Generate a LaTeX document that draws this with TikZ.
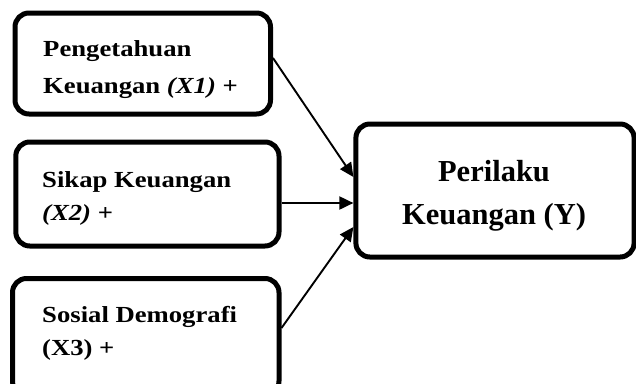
\documentclass[tikz,border=0pt]{standalone}
\usepackage{fontspec}
\setmainfont{Liberation Serif}
\newfontfamily\smallfam[FakeStretch=1.16]{Liberation Serif}
\usetikzlibrary{arrows.meta}
\tikzset{
  box/.style={draw, line width=5pt, rounded corners=14pt, inner sep=0pt, fill=white},
  conn/.style={line width=1.9pt, -{Triangle[length=14pt,width=13pt]}},
  smalltxt/.style={inner sep=0pt, align=left, font=\smallfam\bfseries\fontsize{23}{#1}\selectfont},
  bigtxt/.style={inner sep=0pt, align=center, font=\bfseries\fontsize{30.5}{43}\selectfont},
}
\begin{document}
\begin{tikzpicture}[x=1pt,y=-1pt]
\useasboundingbox (0,0) rectangle (636,383);
\node[box, minimum width=255.5pt, minimum height=101pt] (x1) at (142.75,63.5) {};
\node[box, minimum width=263.2pt, minimum height=104pt] (x2) at (147.4,194) {};
\node[box, minimum width=266.5pt, minimum height=116.5pt] (x3) at (145.75,336.75) {};
\node[box, minimum width=278.2pt, minimum height=133pt] (y) at (495,190.5) {};
\node[smalltxt=36.7, anchor=base west] (t1) at (43,93.3) {Pengetahuan\\Keuangan \textit{(X1)} +};
\node[smalltxt=33, anchor=base west] (t2) at (42,220) {Sikap Keuangan\\\textit{(X2)} +};
\node[smalltxt=33, anchor=base west] (t3) at (42,355) {Sosial Demografi\\(X3) +};
\node[bigtxt, anchor=base] (ty) at (494,224) {Perilaku\\Keuangan (Y)};
\draw[conn] ([yshift=5.5pt]x1.east) -- ([yshift=13.5pt]y.west);
\draw[conn] ([yshift=-9pt]x2.east) -- ([yshift=-12.5pt]y.west);
\draw[conn] ([yshift=8.75pt]x3.east) -- ([yshift=-36.5pt]y.west);
\end{tikzpicture}
\end{document}
